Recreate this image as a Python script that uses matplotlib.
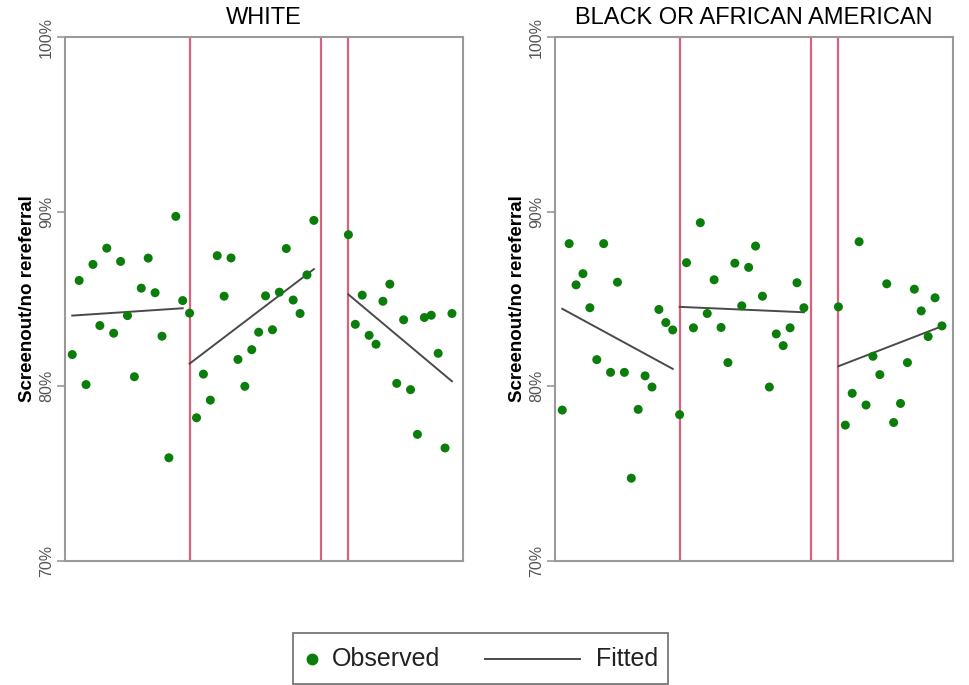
import matplotlib
matplotlib.use("Agg")
import matplotlib.pyplot as plt
from matplotlib.lines import Line2D
from matplotlib.patches import Rectangle

plt.rcParams['font.family'] = ['Liberation Sans', 'DejaVu Sans']

# ---- data ----
panel_titles = ["WHITE", "BLACK OR AFRICAN AMERICAN"]
y_label = "Screenout/no rereferral"
y_ticks = [70, 80, 90, 100]
y_ticklabels = ["70%", "80%", "90%", "100%"]
legend_labels = ["Observed", "Fitted"]

# time index of each segment
seg1_x = list(range(0, 17))
seg2_x = list(range(17, 36))
seg3_x = list(range(40, 56))
breaks = [17, 36, 40]

white_seg1 = [81.82, 86.06, 80.10, 86.98, 83.48, 87.91, 83.04, 87.15, 84.05, 80.55,
              85.62, 87.34, 85.36, 82.87, 75.91, 89.73, 84.91]
white_seg2 = [84.19, 78.20, 80.70, 79.21, 87.48, 85.16, 87.35, 81.54, 80.00, 82.10,
              83.10, 85.18, 83.24, 85.39, 87.89, 84.94, 84.17, 86.38, 89.50]
white_seg3 = [88.68, 83.55, 85.22, 82.92, 82.41, 84.87, 85.85, 80.17, 83.81, 79.81,
              77.25, 83.94, 84.07, 81.89, 76.47, 84.17]
white_fit = [(84.05, 84.47), (81.30, 86.71), (85.26, 80.29)]

black_seg1 = [78.64, 88.17, 85.81, 86.45, 84.50, 81.53, 88.17, 80.80, 85.96, 80.80,
              74.74, 78.68, 80.60, 79.96, 84.40, 83.65, 83.23]
black_seg2 = [78.38, 87.08, 83.35, 89.37, 84.17, 86.10, 83.37, 81.36, 87.05, 84.61,
              86.81, 88.03, 85.16, 79.96, 83.00, 82.33, 83.35, 85.93, 84.50]
black_seg3 = [84.55, 77.78, 79.60, 88.28, 78.93, 81.72, 80.67, 85.87, 77.93, 79.02,
              81.36, 85.56, 84.32, 82.85, 85.07, 83.46]
black_fit = [(84.44, 81.00), (84.55, 84.24), (81.15, 83.44)]

panels = [
    (white_seg1, white_seg2, white_seg3, white_fit),
    (black_seg1, black_seg2, black_seg3, black_fit),
]

GREEN = '#0a7d0a'
RED = '#d9607f'
SPINE = '#9a9a9a'
FITC = '#4a4a4a'

W, H = 970, 685
fig = plt.figure(figsize=(W / 100, H / 100), dpi=100)
axes_pos = [[65 / W, (H - 561) / H, 398 / W, 524 / H],
            [555 / W, (H - 561) / H, 398 / W, 524 / H]]

segs_x = [seg1_x, seg2_x, seg3_x]
for k, (s1, s2, s3, fit) in enumerate(panels):
    ax = fig.add_axes(axes_pos[k])
    for b in breaks:
        ax.axvline(b, color=RED, lw=1.6, zorder=1)
    for xs, ys, (f0, f1) in zip(segs_x, [s1, s2, s3], fit):
        ax.scatter(xs, ys, s=42, color=GREEN, edgecolors='none', zorder=3)
        ax.plot([xs[0], xs[-1]], [f0, f1], color=FITC, lw=1.4, zorder=2)
    ax.set_xlim(-1.05, 56.6)
    ax.set_ylim(70, 100)
    ax.set_yticks(y_ticks)
    ax.set_yticklabels(y_ticklabels, rotation=90, va='center', color='#555555', fontsize=11.5)
    ax.set_xticks([])
    ax.tick_params(axis='y', length=6, width=1.2, color=SPINE, pad=2)
    for sp in ax.spines.values():
        sp.set_color(SPINE)
        sp.set_linewidth(1.5)
    ax.set_ylabel(y_label, fontsize=13.5, fontweight='bold', labelpad=2)
    ax.set_title(panel_titles[k], fontsize=17, pad=9)

# ---- legend (drawn in figure pixel coordinates) ----
def fx(px):
    return px / W

def fy(py):
    return (H - py) / H

fig.patches.append(Rectangle((fx(293), fy(684)), fx(668) - fx(293), fy(633) - fy(684),
                             transform=fig.transFigure, facecolor='white',
                             edgecolor='#777777', lw=1.3))
yc = fy(659)
fig.add_artist(Line2D([fx(312)], [yc], marker='o', markersize=7.5, color=GREEN,
                      linestyle='none', transform=fig.transFigure))
fig.text(fx(332), yc, legend_labels[0], fontsize=18, va='center', ha='left', color='#222222')
fig.add_artist(Line2D([fx(485), fx(580)], [yc, yc], color=FITC, lw=1.4,
                      transform=fig.transFigure))
fig.text(fx(596), yc, legend_labels[1], fontsize=18, va='center', ha='left', color='#222222')

fig.savefig("out.png", dpi=100)
